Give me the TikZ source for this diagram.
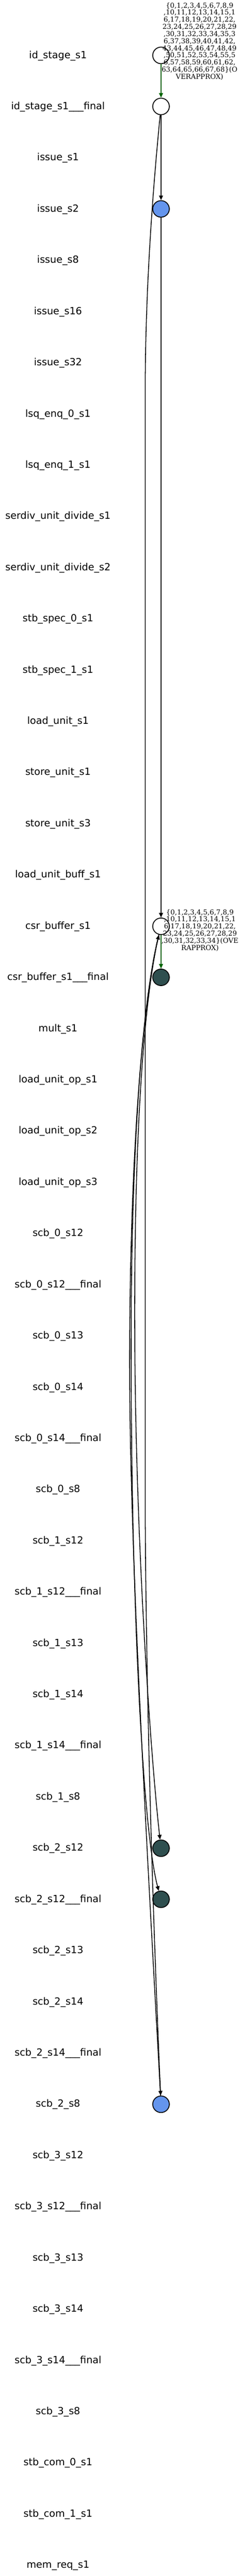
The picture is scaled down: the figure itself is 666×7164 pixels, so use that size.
\documentclass[tikz,border=0pt]{standalone}
\usepackage{fontspec}
\newfontfamily\rowfont{DejaVu Sans}
\newfontfamily\lblfont{DejaVu Serif}
\usetikzlibrary{arrows.meta}
\definecolor{cblue}{HTML}{6495ED}
\definecolor{dslate}{HTML}{2F4F4F}
\definecolor{dgreen}{HTML}{006400}
\tikzset{
    vtx/.style={circle, draw, line width=2.4pt, minimum size=46pt, inner sep=0pt},
    dep/.style={line width=2.2pt, -{Triangle[length=13pt,width=11pt]}},
    depok/.style={dep, draw=dgreen},
    rowlabel/.style={anchor=base, inner sep=0pt, font=\rowfont\fontsize{27.4}{30}\selectfont},
    setlabel/.style={align=center, inner sep=0pt, font=\lblfont\fontsize{19}{19.8}\selectfont},
}
\begin{document}
\begin{tikzpicture}[x=1pt, y=-1pt]
    \useasboundingbox (0,0) rectangle (666,7164);
    \foreach \i/\val in {
        0/id\_stage\_s1,
        1/id\_stage\_s1\_\_\_final,
        2/issue\_s1,
        3/issue\_s2,
        4/issue\_s8,
        5/issue\_s16,
        6/issue\_s32,
        7/lsq\_enq\_0\_s1,
        8/lsq\_enq\_1\_s1,
        9/serdiv\_unit\_divide\_s1,
        10/serdiv\_unit\_divide\_s2,
        11/stb\_spec\_0\_s1,
        12/stb\_spec\_1\_s1,
        13/load\_unit\_s1,
        14/store\_unit\_s1,
        15/store\_unit\_s3,
        16/load\_unit\_buff\_s1,
        17/csr\_buffer\_s1,
        18/csr\_buffer\_s1\_\_\_final,
        19/mult\_s1,
        20/load\_unit\_op\_s1,
        21/load\_unit\_op\_s2,
        22/load\_unit\_op\_s3,
        23/scb\_0\_s12,
        24/scb\_0\_s12\_\_\_final,
        25/scb\_0\_s13,
        26/scb\_0\_s14,
        27/scb\_0\_s14\_\_\_final,
        28/scb\_0\_s8,
        29/scb\_1\_s12,
        30/scb\_1\_s12\_\_\_final,
        31/scb\_1\_s13,
        32/scb\_1\_s14,
        33/scb\_1\_s14\_\_\_final,
        34/scb\_1\_s8,
        35/scb\_2\_s12,
        36/scb\_2\_s12\_\_\_final,
        37/scb\_2\_s13,
        38/scb\_2\_s14,
        39/scb\_2\_s14\_\_\_final,
        40/scb\_2\_s8,
        41/scb\_3\_s12,
        42/scb\_3\_s12\_\_\_final,
        43/scb\_3\_s13,
        44/scb\_3\_s14,
        45/scb\_3\_s14\_\_\_final,
        46/scb\_3\_s8,
        47/stb\_com\_0\_s1,
        48/stb\_com\_1\_s1,
        49/mem\_req\_s1
    } {
        \node[rowlabel] (row\i) at (161,162+142.45*\i) {\val};
    }
    \node[vtx] (ids1) at (447,154) {};
    \node[vtx] (ids1f) at (447,296) {};
    \node[vtx, fill=cblue] (iss2) at (447,581) {};
    \node[vtx] (csr1) at (447,2576) {};
    \node[vtx, fill=dslate] (csr1f) at (447,2718) {};
    \node[vtx, fill=dslate] (scb2s12) at (447,5140) {};
    \node[vtx, fill=dslate] (scb2s12f) at (447,5282) {};
    \node[vtx, fill=cblue] (scb2s8) at (447,5852) {};
    \draw[depok] (ids1) -- (ids1f);
    \draw[dep] (ids1f) -- (iss2);
    \draw[dep] (iss2) -- (csr1);
    \draw[depok] (csr1) -- (csr1f);
    \draw[dep] (ids1f) .. controls (425,520) and (403,800) .. (403,1100)
        -- (403,4200) .. controls (407,4900) and (436,5600) .. (scb2s8);
    \draw[dep] (scb2s8) .. controls (400,5000) and (355,4200) .. (360,3700)
        .. controls (365,3100) and (405,2750) .. (csr1);
    \draw[dep] (csr1) .. controls (405,2750) and (372,3100) .. (374,3700)
        .. controls (376,4300) and (420,4900) .. (scb2s12);
    \draw[dep] (csr1) .. controls (400,2760) and (362,3150) .. (364,3800)
        .. controls (366,4500) and (398,5100) .. (scb2s12f);
    \node[setlabel] (lab1) at (554,115) {\{0,1,2,3,4,5,6,7,8,9\\,10,11,12,13,14,15,1\\6,17,18,19,20,21,22,\\23,24,25,26,27,28,29\\,30,31,32,33,34,35,3\\6,37,38,39,40,41,42,\\43,44,45,46,47,48,49\\,50,51,52,53,54,55,5\\6,57,58,59,60,61,62,\\63,64,65,66,67,68\}(O\\VERAPPROX)};
    \node[setlabel] (lab2) at (555,2587) {\{0,1,2,3,4,5,6,7,8,9\\,10,11,12,13,14,15,1\\6,17,18,19,20,21,22,\\23,24,25,26,27,28,29\\,30,31,32,33,34\}(OVE\\RAPPROX)};
\end{tikzpicture}
\end{document}
